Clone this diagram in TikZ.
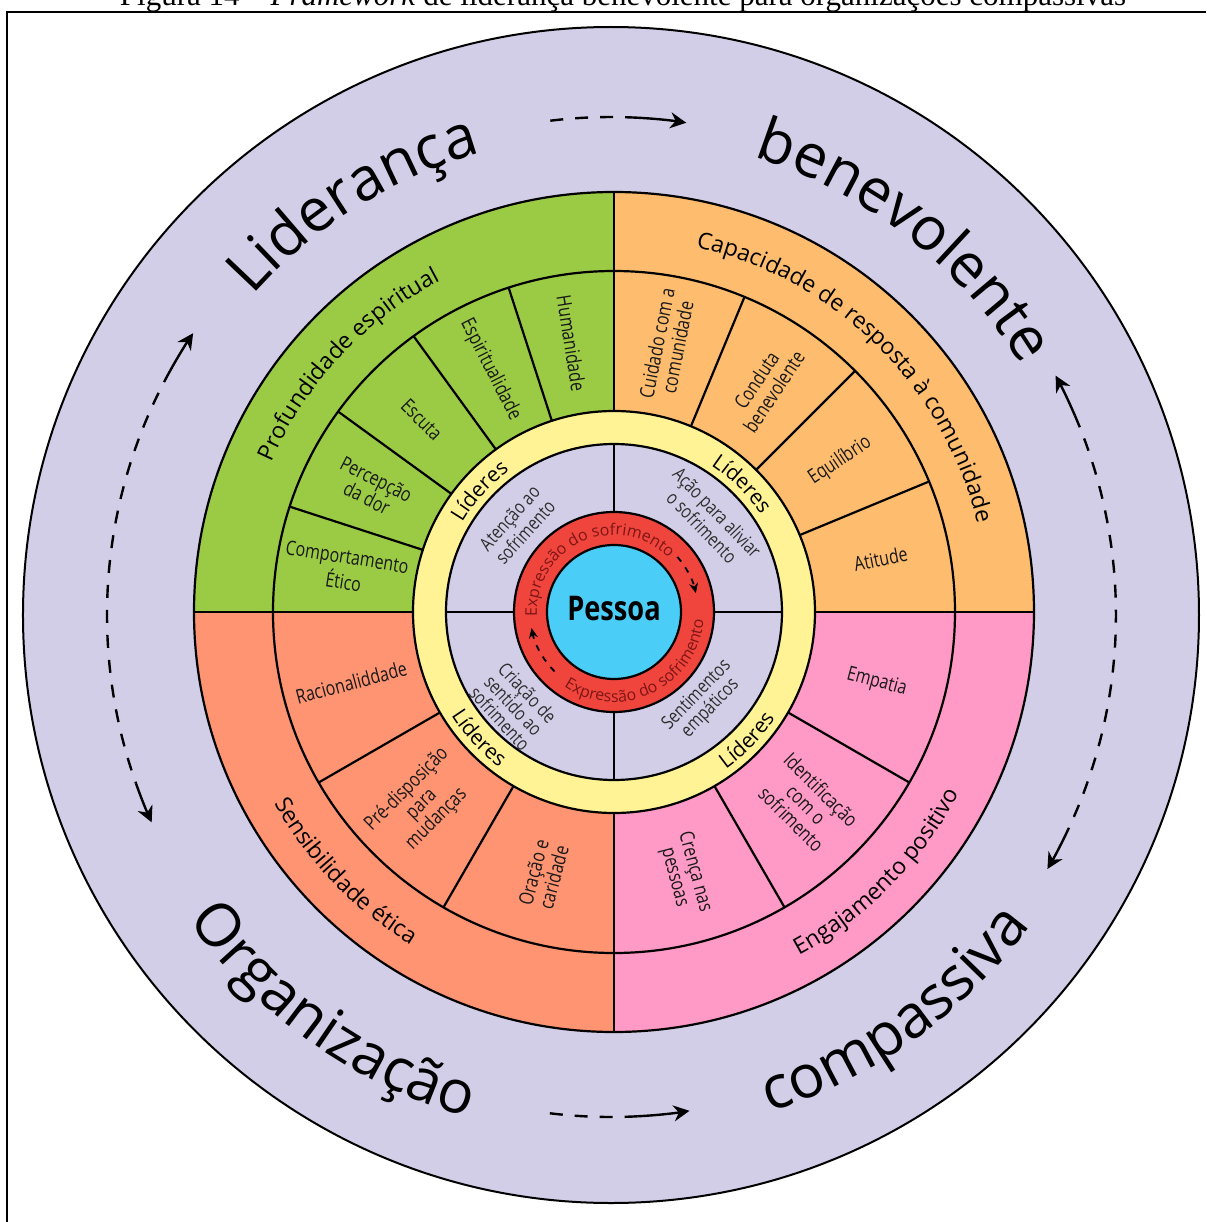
\documentclass[tikz,border=0pt]{standalone}
\usepackage{fontspec}
\setmainfont{Open Sans}
\newfontfamily\fonteLegenda{Liberation Serif}
\newfontfamily\fonteEstreita[FakeStretch=0.8]{Open Sans}
\usetikzlibrary{decorations.text, arrows.meta}

\definecolor{lavanda}{HTML}{D3CEE8}
\definecolor{verde}{HTML}{9BCB44}
\definecolor{laranja}{HTML}{FEBD6E}
\definecolor{salmao}{HTML}{FF9472}
\definecolor{rosa}{HTML}{FF99C6}
\definecolor{amarelo}{HTML}{FFF396}
\definecolor{vermelho}{HTML}{EF453D}
\definecolor{azul}{HTML}{4ACDF6}
\definecolor{vinho}{HTML}{7E1515}

\newcommand\fGrande{\fontsize{30}{30}\selectfont}
\newcommand\fFaixa{\fontsize{11.5}{11.5}\selectfont}
\newcommand\fLider{\fontsize{10.5}{10.5}\selectfont}
\newcommand\fDor{\color{vinho}\fontsize{8}{8}\selectfont}

% texto sobre arco: raio, angulo inicial, angulo final, fonte, texto
\newcommand\arcotexto[5]{%
  \path[decorate, decoration={text along path, text align=center, text={|#4|#5}}]
    (#2:#1) arc[start angle=#2, end angle=#3, radius=#1];}

\begin{document}
\begin{tikzpicture}[x=0.5pt, y=0.5pt,
  linha/.style={line width=1.1pt},
  segtexto/.style={font=\fonteEstreita\fontsize{10}{10.5}\selectfont, align=center, text=black!90, inner sep=0pt},
  centrotexto/.style={font=\fonteEstreita\fontsize{9.5}{9.5}\selectfont, align=center, text=black!82, inner sep=0pt},
  fluxo/.style={line width=1.2pt, dash pattern=on 6.5pt off 6pt},
  ponta/.style={line width=1.2pt, -{Stealth[length=8pt, width=8pt]}},
  fluxodor/.style={line width=0.9pt, dash pattern=on 3pt off 3.5pt, -{Stealth[length=5pt, width=4.5pt]}}]

  \useasboundingbox (-614,-610) rectangle (592,612);

  % legenda e moldura
  \node[font=\fonteLegenda\fontsize{15.5}{15.5}\selectfont, anchor=base] (legenda) at (9,606)
    {Figura 14 – \textit{Framework} de liderança benevolente para organizações compassivas};
  \draw[line width=1pt] (-607,-610) -- (-607,600) -- (592,600);

  % anel externo
  \coordinate (oc) at (-3,-3);
  \filldraw[fill=lavanda, line width=1pt] (oc) circle[radius=588];

  % quadrantes
  \foreach \cor/\a in {verde/90, laranja/0, rosa/-90, salmao/180}
    \fill[\cor] (0,0) -- ({\a+90}:420) arc[start angle=\a+90, end angle=\a, radius=420] -- cycle;
  \fill[amarelo] (0,0) circle[radius=201];
  \fill[lavanda] (0,0) circle[radius=168];
  \fill[vermelho] (0,0) circle[radius=100];
  \fill[azul] (0,0) circle[radius=67];
  \foreach \r in {420,341,201,168,100,67}
    \draw[linha] (0,0) circle[radius=\r];
  \foreach \a in {0,90,180,270} {
    \draw[linha] (\a:201) -- (\a:420);
    \draw[linha] (\a:100) -- (\a:168);
  }
  \foreach \a in {162,144,126,108,67.5,45,22.5,210,240,300,330}
    \draw[linha] (\a:201) -- (\a:341);

  % segmentos
  \foreach \a/\rot/\nome/\txt in {
      171/-9/comportamento/{Comportamento\\Ético},
      153/-27/percepcao/{Percepção\\da dor},
      135/-45/escuta/{Escuta},
      117/-63/espiritualidade/{Espiritualidade},
      99/-81/humanidade/{Humanidade},
      78.75/78.75/cuidado/{Cuidado com a\\comunidade},
      56.25/56.25/conduta/{Conduta\\benevolente},
      33.75/33.75/equilibrio/{Equilíbrio},
      11.25/11.25/atitude/{Atitude},
      195/15/racionalidade/{Racionaliddade},
      225/45/predisposicao/{Pré-disposição\\para\\mudanças},
      255/75/oracao/{Oração e\\caridade},
      285/-75/crenca/{Crença nas\\pessoas},
      315/-45/identificacao/{Identificação\\com o\\sofrimento},
      345/-15/empatia/{Empatia}}
    \node[segtexto, rotate=\rot] (\nome) at (\a:272) {\txt};

  % faixas dos quadrantes
  \arcotexto{374}{187}{87}{\fFaixa}{Profundidade espiritual}
  \arcotexto{374}{95.5}{-4.5}{\fFaixa}{Capacidade de resposta à comunidade}
  \arcotexto{390}{174}{274}{\fFaixa}{Sensibilidade ética}
  \arcotexto{390}{-94.7}{5.3}{\fFaixa}{Engajamento positivo}

  % lideres
  \arcotexto{176}{178}{98}{\fLider}{Líderes}
  \arcotexto{176}{85}{5}{\fLider}{Líderes}
  \arcotexto{193}{183}{263}{\fLider}{Líderes}
  \arcotexto{193}{-84}{-4}{\fLider}{Líderes}

  % centro
  \node[centrotexto, rotate=48] (atencao) at (138:130) {Atenção ao\\sofrimento};
  \node[centrotexto, rotate=-46] (acao) at (44:133) {Ação para aliviar\\o sofrimento};
  \node[centrotexto, rotate=-47] (criacao) at (223:137) {Criação de\\sentido ao\\sofrimento};
  \node[centrotexto, rotate=46] (sentimentos) at (-45:127) {Sentimentos\\empáticos};

  \arcotexto{77}{204}{24}{\fDor}{Expressão do sofrimento}
  \arcotexto{90}{205.5}{385.5}{\fDor}{Expressão do sofrimento}
  \draw[fluxodor] (41:84) arc[start angle=41, end angle=13, radius=84];
  \draw[fluxodor] (225:84) arc[start angle=225, end angle=191, radius=84];

  \node[font=\fonteEstreita\bfseries\fontsize{17}{17}\selectfont] (pessoa) at (0,3) {Pessoa};

  % titulo e setas do anel externo
  \begin{scope}[shift={(oc)}]
    \arcotexto{480}{182}{62}{\fGrande}{Liderança}
    \arcotexto{480}{112}{-8}{\fGrande}{benevolente}
    \arcotexto{522}{175}{295}{\fGrande}{Organização}
    \arcotexto{522}{-114.4}{5.6}{\fGrande}{compassiva}

    \draw[fluxo] (97:498) arc[start angle=97, end angle=87.8, radius=498];
    \draw[ponta] (87.8:498) arc[start angle=87.8, end angle=81.3, radius=498];
    \draw[fluxo] (263:502) arc[start angle=263, end angle=273, radius=502];
    \draw[ponta] (273:502) arc[start angle=273, end angle=279, radius=502];
    \draw[ponta] (151:504) arc[start angle=151, end angle=146, radius=504];
    \draw[fluxo] (151:504) arc[start angle=151, end angle=199.5, radius=504];
    \draw[ponta] (199.5:504) arc[start angle=199.5, end angle=204.3, radius=504];
    \draw[ponta] (23.3:505) arc[start angle=23.3, end angle=28.3, radius=505];
    \draw[fluxo] (23.3:505) arc[start angle=23.3, end angle=-25.2, radius=505];
    \draw[ponta] (-25.2:505) arc[start angle=-25.2, end angle=-30.2, radius=505];
  \end{scope}
\end{tikzpicture}
\end{document}
